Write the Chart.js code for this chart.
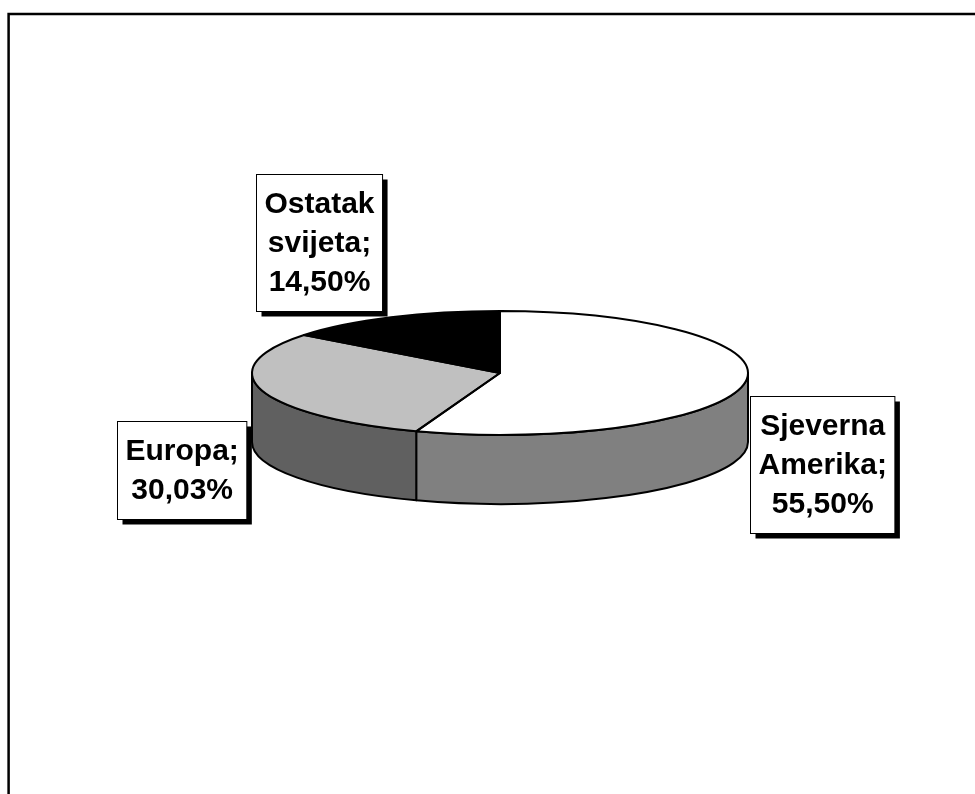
<!DOCTYPE html>
<html lang="hr">
<head>
    <meta charset="UTF-8">
    <title>Udio po regijama</title>
    <script src="https://cdn.jsdelivr.net/npm/chart.js"></script>
    <style>
        html, body { margin: 0; padding: 0; background: #fff; }
        #pieChart { display: block; }
    </style>
</head>
<body>
    <canvas id="pieChart" width="975" height="794"></canvas>
    <script>
        // podaci
        const regije = ['Sjeverna Amerika', 'Europa', 'Ostatak svijeta'];
        const udjeli = [55.50, 30.03, 14.50];

        // boje gornje plohe i boka
        const bojeVrh = ['#ffffff', '#c0c0c0', '#000000'];
        const bojeBok = ['#808080', '#606060', '#000000'];

        // pomak sredista natpisa od sredista kruga
        const pomaciNatpisa = [[322, 91], [-318, 97], [-181, -131]];

        function postotak(v) {
            return v.toFixed(2).replace('.', ',') + '%';
        }

        // okvir oko grafikona
        const okvir = {
            id: 'okvir',
            beforeDraw(chart) {
                const ctx = chart.ctx;
                ctx.save();
                ctx.fillStyle = '#fff';
                ctx.fillRect(0, 0, chart.width, chart.height);
                ctx.strokeStyle = '#000';
                ctx.lineWidth = 2.5;
                ctx.strokeRect(8.6, 14, 1200, 1200);
                ctx.restore();
            }
        };

        // "3D" pita: bok se crta ispod, a gornja ploha se spljosti
        const pita3d = {
            id: 'pita3d',
            beforeDatasetsDraw(chart, args, opts) {
                const ctx = chart.ctx;
                const arcs = chart.getDatasetMeta(0).data;
                const { x, y, outerRadius: r } = arcs[0];
                const ry = r * opts.nagib;
                ctx.save();
                ctx.lineWidth = opts.debljina;
                ctx.strokeStyle = '#000';
                ctx.lineJoin = 'round';
                arcs.forEach((arc, i) => {
                    [0, 2 * Math.PI].forEach(base => {
                        const a1 = Math.max(arc.startAngle, base);
                        const a2 = Math.min(arc.endAngle, base + Math.PI);
                        if (a2 <= a1) return;
                        ctx.beginPath();
                        ctx.ellipse(x, y, r, ry, 0, a1, a2);
                        ctx.ellipse(x, y + opts.dubina, r, ry, 0, a2, a1, true);
                        ctx.closePath();
                        ctx.fillStyle = bojeBok[i];
                        ctx.fill();
                        ctx.stroke();
                    });
                });
                ctx.restore();
                ctx.save();
                ctx.translate(x, y);
                ctx.scale(1, opts.nagib);
                ctx.translate(-x, -y);
            },
            afterDatasetsDraw(chart, args, opts) {
                const ctx = chart.ctx;
                ctx.restore();
                const arcs = chart.getDatasetMeta(0).data;
                const { x, y, outerRadius: r } = arcs[0];
                const ry = r * opts.nagib;
                ctx.save();
                ctx.lineWidth = opts.debljina;
                ctx.strokeStyle = '#000';
                ctx.lineJoin = 'round';
                arcs.forEach(arc => {
                    ctx.beginPath();
                    ctx.moveTo(x, y);
                    ctx.ellipse(x, y, r, ry, 0, arc.startAngle, arc.endAngle);
                    ctx.closePath();
                    ctx.stroke();
                });
                ctx.restore();
            }
        };

        // natpisi u okvirima sa sjenom
        const natpisi = {
            id: 'natpisi',
            afterDraw(chart, args, opts) {
                const ctx = chart.ctx;
                const arcs = chart.getDatasetMeta(0).data;
                const { x, y } = arcs[0];
                ctx.save();
                ctx.font = opts.font;
                ctx.textAlign = 'center';
                ctx.textBaseline = 'middle';
                chart.data.labels.forEach((naziv, i) => {
                    const rijeci = naziv.split(' ');
                    rijeci[rijeci.length - 1] += ';';
                    const redovi = rijeci.concat(postotak(chart.data.datasets[0].data[i]));
                    const w = Math.max(...redovi.map(t => ctx.measureText(t).width)) + 2 * opts.padX;
                    const h = redovi.length * opts.visinaReda + 2 * opts.padY;
                    const cx = x + pomaciNatpisa[i][0];
                    const cy = y + pomaciNatpisa[i][1];
                    const left = Math.round(cx - w / 2) + 0.5;
                    const top = Math.round(cy - h / 2) + 0.5;
                    ctx.fillStyle = '#000';
                    ctx.fillRect(left + 5, top + 5, w, h);
                    ctx.fillStyle = '#fff';
                    ctx.fillRect(left, top, w, h);
                    ctx.lineWidth = 1;
                    ctx.strokeStyle = '#000';
                    ctx.strokeRect(left, top, w, h);
                    ctx.fillStyle = '#000';
                    redovi.forEach((t, k) => {
                        ctx.fillText(t, left + w / 2, top + opts.padY + opts.visinaReda * (k + 0.5) + 1);
                    });
                });
                ctx.restore();
            }
        };

        new Chart(document.getElementById('pieChart'), {
            type: 'pie',
            data: {
                labels: regije,
                datasets: [{
                    data: udjeli,
                    backgroundColor: bojeVrh,
                    borderWidth: 0
                }]
            },
            options: {
                responsive: false,
                animation: false,
                layout: {
                    padding: { left: 252, right: 227, top: 125, bottom: 173 }
                },
                plugins: {
                    legend: { display: false },
                    tooltip: { enabled: false },
                    pita3d: { nagib: 0.25, dubina: 69, debljina: 2 },
                    natpisi: {
                        font: 'bold 30px "Liberation Sans", Arial, sans-serif',
                        visinaReda: 39,
                        padX: 8,
                        padY: 10
                    }
                }
            },
            plugins: [okvir, pita3d, natpisi]
        });
    </script>
</body>
</html>
